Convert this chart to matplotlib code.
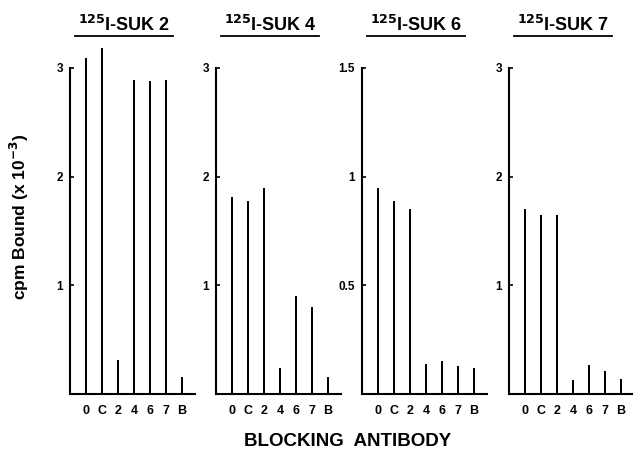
import matplotlib
matplotlib.use('Agg')
import matplotlib.pyplot as plt
from matplotlib.lines import Line2D

plt.rcParams['font.family'] = ['Liberation Sans', 'DejaVu Sans']
plt.rcParams['font.weight'] = 'bold'

# blocking antibodies (x categories)
antibodies = ['0', 'C', '2', '4', '6', '7', 'B']

# bound cpm (x 10^-3) for each labelled antibody
titles = ['SUK 2', 'SUK 4', 'SUK 6', 'SUK 7']
suk2 = [3.09, 3.18, 0.31, 2.89, 2.88, 2.89, 0.16]
suk4 = [1.81, 1.78, 1.90, 0.24, 0.90, 0.80, 0.16]
suk6 = [0.95, 0.89, 0.85, 0.14, 0.15, 0.13, 0.12]
suk7 = [1.70, 1.65, 1.65, 0.13, 0.27, 0.21, 0.135]
series = [suk2, suk4, suk6, suk7]

yticks = [[1, 2, 3], [1, 2, 3], [0.5, 1, 1.5], [1, 2, 3]]
yticklabels = [['1', '2', '3'], ['1', '2', '3'], ['0.5', '1', '1.5'], ['1', '2', '3']]
ymax = [3, 3, 1.5, 3]

W, H = 633, 455
fig = plt.figure(figsize=(W / 100, H / 100), dpi=100)

lefts = [70, 216, 362, 509]   # pixel x of each y axis
ax_w = 125
bottom_px, top_px = 394, 40

for k in range(4):
    ax = fig.add_axes([lefts[k] / W, 1 - bottom_px / H, ax_w / W, (bottom_px - top_px) / H])
    x = range(len(antibodies))
    ax.bar(x, series[k], width=0.16, color='black')
    ax.set_xlim(-1, 6.8)
    # top of visible axis (ymax) sits at pixel 68
    ax.set_ylim(0, ymax[k] * (bottom_px - top_px) / (bottom_px - 68))
    for s in ['top', 'right']:
        ax.spines[s].set_visible(False)
    ax.spines['left'].set_bounds(0, ymax[k])
    ax.spines['left'].set_linewidth(1.5)
    ax.spines['bottom'].set_linewidth(1.5)
    ax.set_xticks(list(x))
    ax.set_xticklabels(antibodies, fontsize=9, fontweight='bold')
    ax.tick_params(axis='x', length=0, pad=8)
    ax.set_yticks(yticks[k])
    ax.set_yticklabels(yticklabels[k], fontsize=8.5, fontweight='bold')
    ax.tick_params(axis='y', direction='in', length=3, width=1.2, pad=5)

    # panel title with underline
    cx = lefts[k] + 54
    fig.text(cx / W, 1 - 25 / H, r'$\mathbf{^{125}}$I-' + titles[k], ha='center', va='center',
             fontsize=13, fontweight='bold')
    fig.add_artist(Line2D([(cx - 49) / W, (cx + 49) / W], [1 - 36 / H, 1 - 36 / H],
                          color='black', lw=1.3, transform=fig.transFigure))

fig.text(19 / W, 1 - 217 / H, r'cpm Bound (x 10$\mathbf{^{-3}}$)', rotation=90,
         ha='center', va='center', fontsize=12.5, fontweight='bold')
fig.text(348 / W, 1 - 441 / H, 'BLOCKING  ANTIBODY', ha='center', va='center',
         fontsize=13.5, fontweight='bold')

fig.savefig('out.png', dpi=100)
